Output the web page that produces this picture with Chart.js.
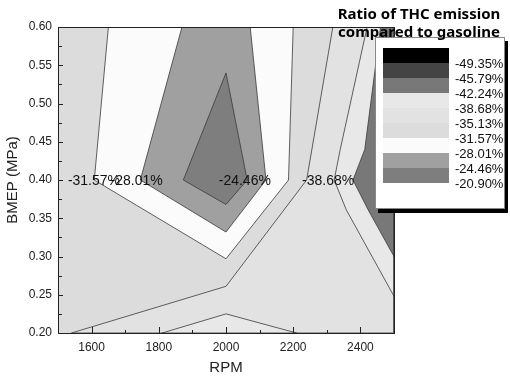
<!DOCTYPE html>
<html>
<head>
<meta charset="utf-8">
<script src="https://cdn.jsdelivr.net/npm/chart.js@4.4.1/dist/chart.umd.min.js"></script>
<style>
  html, body { margin: 0; padding: 0; background: #fff; }
</style>
</head>
<body>
<canvas id="contour" width="510" height="378"></canvas>
<script>
// axis ticks
const rpmTicks = [1600, 1800, 2000, 2200, 2400];
const bmepTicks = [0.20, 0.25, 0.30, 0.35, 0.40, 0.45, 0.50, 0.55, 0.60];

// colour levels of the THC ratio (legend, top to bottom)
const levelLabels = ['-49.35%', '-45.79%', '-42.24%', '-38.68%', '-35.13%', '-31.57%', '-28.01%', '-24.46%', '-20.90%'];
const levelColors = ['#000000', '#444444', '#787878', '#e8e8e8', '#e2e2e2', '#dcdcdc', '#fbfbfb', '#a0a0a0', '#7e7e7e'];

// contour bands as [rpm, bmep] corners, painted in this order
const bandBase   = [[1500, 0.20], [2500, 0.20], [2500, 0.60], [1500, 0.60]];                          // -35.13 .. -31.57
const bandMid    = [[1540, 0.20], [2000, 0.261], [2240, 0.40], [2318, 0.60], [2500, 0.60], [2500, 0.20]]; // -38.68 .. -35.13
const bandRight  = [[2500, 0.248], [2358, 0.361], [2322, 0.40], [2340, 0.44], [2420, 0.60], [2500, 0.60]]; // -42.24 .. -38.68
const bandEdge   = [[2500, 0.30], [2423, 0.361], [2378, 0.40], [2413, 0.44], [2460, 0.60], [2500, 0.60]];  // -45.79 .. -42.24
const bandFloor  = [[1810, 0.20], [2000, 0.225], [2210, 0.20]];                                           // -42.24 .. -38.68
const bandWhite  = [[1650, 0.60], [1608, 0.40], [2000, 0.297], [2186, 0.40], [2200, 0.60]];               // -31.57 .. -28.01
const bandGray   = [[1869, 0.60], [1745, 0.40], [2000, 0.332], [2119, 0.40], [2072, 0.60]];               // -28.01 .. -24.46
const bandCore   = [[2000, 0.54], [1873, 0.40], [2000, 0.368], [2063, 0.40]];                             // -24.46 .. -20.90

// inline contour labels
const contourText = ['-31.57%', '-28.01%', '-24.46%', '-38.68%'];
const contourRpm  = [1607, 1734, 2056, 2304];
const contourBmep = [0.40, 0.40, 0.40, 0.40];

const bands = [
    [bandBase, levelColors[5], false],
    [bandMid, levelColors[4], true],
    [bandRight, levelColors[3], true],
    [bandEdge, levelColors[2], true],
    [bandFloor, levelColors[3], true],
    [bandWhite, levelColors[6], true],
    [bandGray, levelColors[7], true],
    [bandCore, levelColors[8], true],
];

const datasets = bands.map(([corners, color, edged], i) => {
    const pts = corners.map(([x, y]) => ({ x, y }));
    pts.push(pts[0]);
    return {
        data: pts,
        order: -i,
        backgroundColor: color,
        borderColor: edged ? '#3a3a3a' : 'rgba(0,0,0,0)',
        borderWidth: 0.8,
        fill: 'shape',
        pointRadius: 0,
        tension: 0,
    };
});

const overlay = {
    id: 'overlay',
    afterDatasetsDraw(chart) {
        const { ctx, chartArea: a, scales: { x, y } } = chart;
        ctx.save();

        // contour labels
        ctx.fillStyle = '#111';
        ctx.font = '14px "Liberation Sans", Arial, sans-serif';
        ctx.textAlign = 'center';
        ctx.textBaseline = 'middle';
        contourText.forEach((t, i) => {
            ctx.fillText(t, x.getPixelForValue(contourRpm[i]), y.getPixelForValue(contourBmep[i]) + 1);
        });

        // frame
        ctx.strokeStyle = '#222';
        ctx.lineWidth = 1;
        ctx.strokeRect(a.left + 0.5, a.top + 0.5, a.right - a.left, a.bottom - a.top);

        // inward ticks, major + minor
        ctx.beginPath();
        const xStep = rpmTicks[1] - rpmTicks[0];
        for (let v = x.min; v <= x.max; v += xStep / 2) {
            const px = Math.round(x.getPixelForValue(v)) + 0.5;
            const major = rpmTicks.includes(v);
            ctx.moveTo(px, a.bottom);
            ctx.lineTo(px, a.bottom - (major ? 6 : 3));
        }
        const yStep = bmepTicks[1] - bmepTicks[0];
        for (let k = 0; k <= Math.round((y.max - y.min) / (yStep / 2)); k++) {
            const v = y.min + k * yStep / 2;
            const py = Math.round(y.getPixelForValue(v)) + 0.5;
            ctx.moveTo(a.left, py);
            ctx.lineTo(a.left + (k % 2 === 0 ? 5 : 4), py);
        }
        ctx.stroke();

        // axis titles
        ctx.fillStyle = '#222';
        ctx.font = '15px "Liberation Sans", Arial, sans-serif';
        ctx.fillText('RPM', (a.left + a.right) / 2, 368);
        ctx.save();
        ctx.translate(13, (a.top + a.bottom) / 2);
        ctx.rotate(-Math.PI / 2);
        ctx.fillText('BMEP (MPa)', 0, 0);
        ctx.restore();

        // colour legend
        const bx = 375, by = 37, bw = 130, bh = 172;
        ctx.fillStyle = '#000';
        ctx.fillRect(bx + 3, by + 4, bw, bh);
        ctx.fillStyle = '#fff';
        ctx.fillRect(bx, by, bw, bh);
        ctx.strokeStyle = '#888';
        ctx.strokeRect(bx + 0.5, by + 0.5, bw - 1, bh - 1);
        const sh = 15;
        levelColors.forEach((c, i) => {
            ctx.fillStyle = c;
            ctx.fillRect(bx + 8, by + 11 + i * sh, 66, sh);
        });
        ctx.fillStyle = '#111';
        ctx.font = '13px "Liberation Sans", Arial, sans-serif';
        ctx.textAlign = 'left';
        levelLabels.forEach((t, i) => {
            ctx.fillText(t, bx + 80, by + 11 + (i + 1) * sh + 1);
        });

        ctx.font = 'bold 15px "Noto Sans", "Liberation Sans", sans-serif';
        ctx.textAlign = 'center';
        ctx.fillStyle = '#000';
        ctx.fillText('Ratio of THC emission', 419, 15);
        ctx.fillText('compared to gasoline', 419, 33);
        ctx.restore();
    }
};

new Chart(document.getElementById('contour'), {
    type: 'line',
    data: { datasets },
    options: {
        responsive: false,
        animation: false,
        layout: { padding: { left: 0, top: 27, right: 116, bottom: 0 } },
        scales: {
            x: {
                type: 'linear',
                min: 1500,
                max: 2500,
                afterBuildTicks: s => { s.ticks = rpmTicks.map(v => ({ value: v })); },
                afterFit: s => { s.height = 45; },
                grid: { display: false, drawTicks: false },
                border: { display: false },
                ticks: {
                    padding: 7,
                    color: '#222',
                    font: { size: 12, family: '"Liberation Sans", Arial' },
                    callback: v => String(v),
                },
            },
            y: {
                type: 'linear',
                min: 0.2,
                max: 0.6,
                afterBuildTicks: s => { s.ticks = bmepTicks.map(v => ({ value: v })); },
                afterFit: s => { s.width = 58; },
                grid: { display: false, drawTicks: false },
                border: { display: false },
                ticks: {
                    padding: 6,
                    color: '#222',
                    font: { size: 12, family: '"Liberation Sans", Arial' },
                    callback: v => v.toFixed(2),
                },
            },
        },
        plugins: { legend: { display: false }, tooltip: { enabled: false } },
    },
    plugins: [overlay],
});
</script>
</body>
</html>
